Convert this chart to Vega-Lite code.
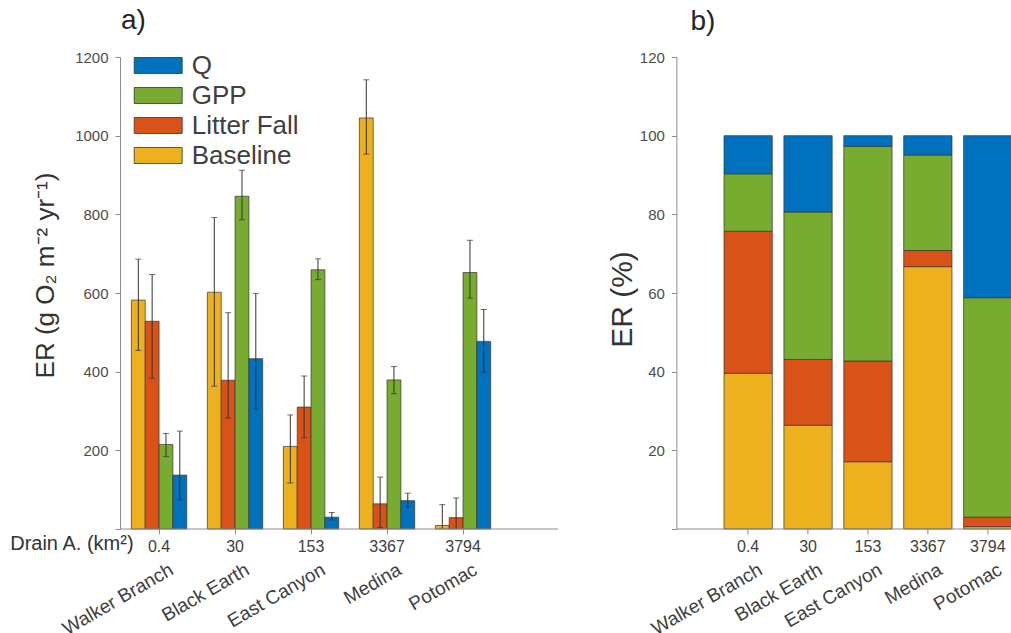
{
  "$schema": "https://vega.github.io/schema/vega-lite/v6.json",
  "padding": {"left": 9, "top": 7, "right": 0, "bottom": 0},
  "bounds": "flush",
  "spacing": 118.4,
  "config": {
    "font": "Liberation Sans",
    "view": {"stroke": null},
    "axis": {"grid": false, "domainColor": "#8c8c8c", "tickColor": "#8c8c8c", "labelColor": "#4d4d4d", "titleColor": "#333333", "labelFontSize": 15, "titleFontWeight": "normal", "tickSize": 5, "labelPadding": 7},
    "title": {"fontSize": 28, "fontWeight": "normal", "color": "#262626", "anchor": "start", "frame": "group"}
  },
  "datasets": {
    "er": [
      {"site": "Walker Branch", "comp": "Baseline", "ci": 1, "er": 582, "lo": 454, "hi": 686, "pct": 39.6},
      {"site": "Walker Branch", "comp": "Litter Fall", "ci": 2, "er": 528, "lo": 383, "hi": 647, "pct": 36.1},
      {"site": "Walker Branch", "comp": "GPP", "ci": 3, "er": 215, "lo": 184, "hi": 243, "pct": 14.6},
      {"site": "Walker Branch", "comp": "Q", "ci": 4, "er": 137, "lo": 74, "hi": 249, "pct": 9.7},
      {"site": "Black Earth", "comp": "Baseline", "ci": 1, "er": 602, "lo": 363, "hi": 792, "pct": 26.4},
      {"site": "Black Earth", "comp": "Litter Fall", "ci": 2, "er": 378, "lo": 282, "hi": 550, "pct": 16.7},
      {"site": "Black Earth", "comp": "GPP", "ci": 3, "er": 846, "lo": 786, "hi": 912, "pct": 37.5},
      {"site": "Black Earth", "comp": "Q", "ci": 4, "er": 433, "lo": 305, "hi": 599, "pct": 19.4},
      {"site": "East Canyon", "comp": "Baseline", "ci": 1, "er": 210, "lo": 117, "hi": 290, "pct": 17.1},
      {"site": "East Canyon", "comp": "Litter Fall", "ci": 2, "er": 310, "lo": 232, "hi": 389, "pct": 25.6},
      {"site": "East Canyon", "comp": "GPP", "ci": 3, "er": 659, "lo": 634, "hi": 687, "pct": 54.6},
      {"site": "East Canyon", "comp": "Q", "ci": 4, "er": 30, "lo": 23, "hi": 42, "pct": 2.7},
      {"site": "Medina", "comp": "Baseline", "ci": 1, "er": 1045, "lo": 953, "hi": 1142, "pct": 66.7},
      {"site": "Medina", "comp": "Litter Fall", "ci": 2, "er": 64, "lo": 4, "hi": 132, "pct": 4.1},
      {"site": "Medina", "comp": "GPP", "ci": 3, "er": 379, "lo": 344, "hi": 413, "pct": 24.3},
      {"site": "Medina", "comp": "Q", "ci": 4, "er": 72, "lo": 55, "hi": 91, "pct": 4.9},
      {"site": "Potomac", "comp": "Baseline", "ci": 1, "er": 9, "lo": 0, "hi": 62, "pct": 0.6},
      {"site": "Potomac", "comp": "Litter Fall", "ci": 2, "er": 29, "lo": 0, "hi": 79, "pct": 2.4},
      {"site": "Potomac", "comp": "GPP", "ci": 3, "er": 652, "lo": 587, "hi": 734, "pct": 55.8},
      {"site": "Potomac", "comp": "Q", "ci": 4, "er": 477, "lo": 399, "hi": 558, "pct": 41.2}
    ],
    "sites": [
      {"site": "Walker Branch", "area": "0.4"},
      {"site": "Black Earth", "area": "30"},
      {"site": "East Canyon", "area": "153"},
      {"site": "Medina", "area": "3367"},
      {"site": "Potomac", "area": "3794"}
    ]
  },
  "resolve": {"legend": {"color": "independent"}},
  "hconcat": [
    {
      "width": 438,
      "height": 472,
      "title": {"text": "a)", "dx": 1, "offset": 14},
      "data": {"name": "er"},
      "layer": [
        {
          "mark": {"type": "bar", "stroke": "#333333", "strokeWidth": 0.7},
          "encoding": {
            "x": {
              "field": "site", "type": "nominal",
              "sort": ["Walker Branch", "Black Earth", "East Canyon", "Medina", "Potomac"],
              "scale": {"range": [11.4, 370.7], "paddingInner": 0.272, "paddingOuter": 0},
              "axis": {"title": "Drain A. (km²)", "titleFontSize": 20, "titleX": -110.3, "titleY": 20.5, "titleAlign": "left", "titleBaseline": "alphabetic", "titleAngle": 0, "labelAngle": -30, "labelAlign": "right", "labelBaseline": "top", "labelFontSize": 19, "labelPadding": 26, "labelOffset": 8, "labelColor": "#404040", "domain": false}
            },
            "xOffset": {"field": "comp", "sort": ["Baseline", "Litter Fall", "GPP", "Q"], "scale": {"paddingInner": 0, "paddingOuter": 0}},
            "y": {"field": "er", "type": "quantitative", "scale": {"domain": [0, 1200]},
                  "axis": {"title": "ER (g O₂ m⁻² yr⁻¹)", "titleFontSize": 26, "titlePadding": 16, "titleY": 218, "values": [0, 200, 400, 600, 800, 1000, 1200], "format": "d", "labelExpr": "datum.value == 0 ? '' : datum.label"}},
            "color": {"field": "comp", "type": "nominal", "sort": ["Q", "GPP", "Litter Fall", "Baseline"],
                      "scale": {"range": ["#0072BD", "#77AC30", "#D95319", "#EDB120"]},
                      "legend": {"title": null, "orient": "none", "legendX": 21.7, "legendY": -8, "padding": 0, "symbolType": "M-1.5,-0.5H1.5V0.5H-1.5Z", "symbolSize": 1024, "symbolStrokeColor": "#333333", "symbolStrokeWidth": 0.8, "symbolOpacity": 1, "labelFontSize": 26, "labelColor": "#404040", "labelOffset": 17, "rowPadding": -2}}
          }
        },
        {
          "mark": {"type": "rule", "color": "#333333", "strokeWidth": 1},
          "encoding": {
            "x": {"field": "site", "type": "nominal", "sort": ["Walker Branch", "Black Earth", "East Canyon", "Medina", "Potomac"]},
            "xOffset": {"field": "comp", "sort": ["Baseline", "Litter Fall", "GPP", "Q"]},
            "y": {"field": "lo", "type": "quantitative"},
            "y2": {"field": "hi"}
          }
        },
        {
          "mark": {"type": "tick", "color": "#333333", "size": 6, "thickness": 1},
          "encoding": {
            "x": {"field": "site", "type": "nominal", "sort": ["Walker Branch", "Black Earth", "East Canyon", "Medina", "Potomac"]},
            "xOffset": {"field": "comp", "sort": ["Baseline", "Litter Fall", "GPP", "Q"]},
            "y": {"field": "hi", "type": "quantitative"}
          }
        },
        {
          "transform": [{"filter": "datum.lo > 0"}],
          "mark": {"type": "tick", "color": "#333333", "size": 6, "thickness": 1},
          "encoding": {
            "x": {"field": "site", "type": "nominal", "sort": ["Walker Branch", "Black Earth", "East Canyon", "Medina", "Potomac"]},
            "xOffset": {"field": "comp", "sort": ["Baseline", "Litter Fall", "GPP", "Q"]},
            "y": {"field": "lo", "type": "quantitative"}
          }
        },
        {
          "data": {"name": "sites"},
          "mark": {"type": "text", "dy": 23.3, "fontSize": 16, "color": "#404040", "baseline": "alphabetic"},
          "encoding": {
            "x": {"field": "site", "type": "nominal", "sort": ["Walker Branch", "Black Earth", "East Canyon", "Medina", "Potomac"]},
            "y": {"datum": 0},
            "text": {"field": "area"}
          }
        },
        {
          "data": {"values": [{}]},
          "mark": {"type": "rule", "color": "#8c8c8c", "strokeWidth": 1},
          "encoding": {"y": {"datum": 0}}
        }
      ]
    },
    {
      "width": 335,
      "height": 472,
      "title": {"text": "b)", "dx": 14, "offset": 14},
      "data": {"name": "er"},
      "layer": [
        {
          "mark": {"type": "bar", "stroke": "#333333", "strokeWidth": 0.7},
          "encoding": {
            "x": {
              "field": "site", "type": "nominal",
              "sort": ["Walker Branch", "Black Earth", "East Canyon", "Medina", "Potomac"],
              "scale": {"range": [47.6, 335.5], "paddingInner": 0.194, "paddingOuter": 0},
              "axis": {"title": null, "labelAngle": -30, "labelAlign": "right", "labelBaseline": "top", "labelFontSize": 19, "labelPadding": 26, "labelOffset": 8, "labelColor": "#404040", "domain": false}
            },
            "y": {"field": "pct", "type": "quantitative", "stack": "zero", "scale": {"domain": [0, 120]},
                  "axis": {"title": "ER (%)", "titleFontSize": 30, "titlePadding": 2, "titleY": 242, "values": [0, 20, 40, 60, 80, 100, 120], "labelExpr": "datum.value == 0 ? '' : datum.label"}},
            "order": {"field": "ci", "type": "quantitative"},
            "color": {"field": "comp", "type": "nominal", "sort": ["Q", "GPP", "Litter Fall", "Baseline"],
                      "scale": {"range": ["#0072BD", "#77AC30", "#D95319", "#EDB120"]}, "legend": null}
          }
        },
        {
          "data": {"name": "sites"},
          "mark": {"type": "text", "dy": 23.3, "fontSize": 16, "color": "#404040", "baseline": "alphabetic"},
          "encoding": {
            "x": {"field": "site", "type": "nominal", "sort": ["Walker Branch", "Black Earth", "East Canyon", "Medina", "Potomac"]},
            "y": {"datum": 0},
            "text": {"field": "area"}
          }
        },
        {
          "data": {"values": [{}]},
          "mark": {"type": "rule", "color": "#8c8c8c", "strokeWidth": 1},
          "encoding": {"y": {"datum": 0}}
        }
      ]
    }
  ]
}
